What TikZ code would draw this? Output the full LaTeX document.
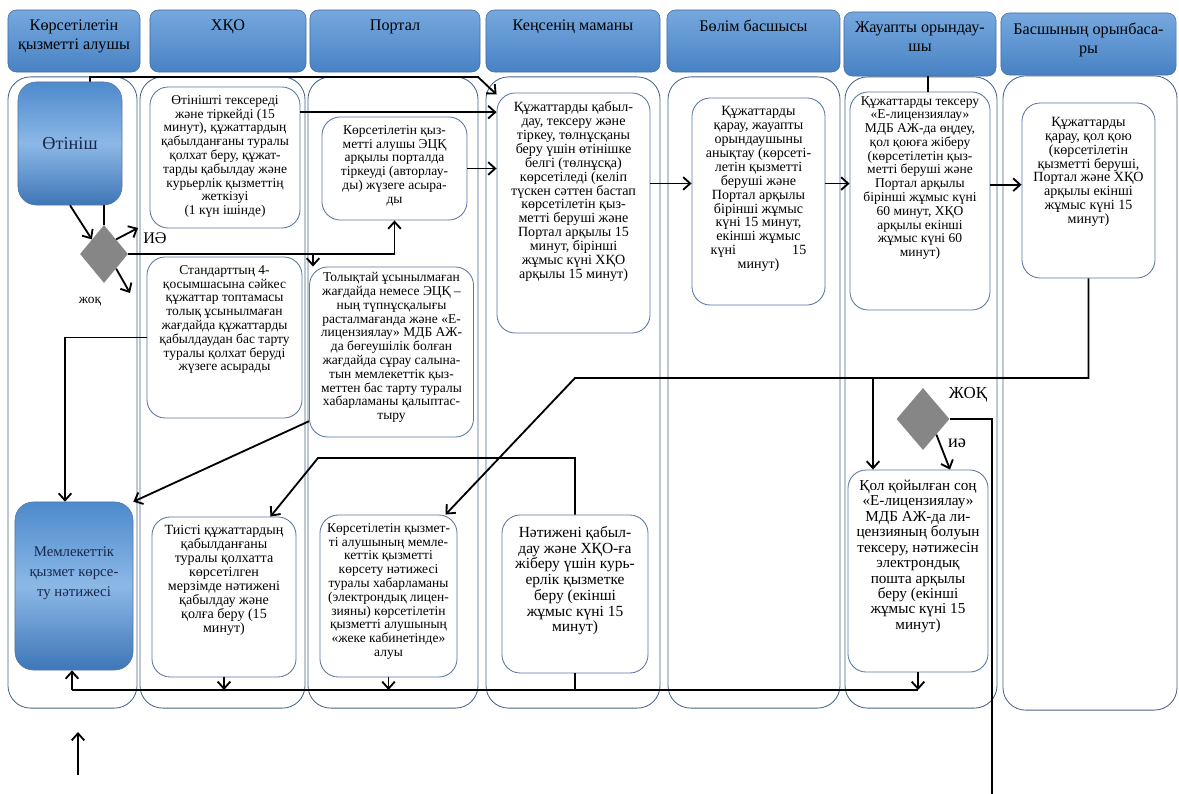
\documentclass[tikz,border=0pt]{standalone}
\usepackage{fontspec}
\setmainfont{Liberation Serif}
\usetikzlibrary{arrows.meta,shapes.geometric}

\definecolor{hdtop}{RGB}{118,168,222}
\definecolor{hdbot}{RGB}{72,130,196}
\definecolor{hdline}{RGB}{70,110,160}
\definecolor{laneline}{RGB}{72,100,138}
\definecolor{boxline}{RGB}{88,118,160}
\definecolor{fltop}{RGB}{78,138,205}
\definecolor{flmid}{RGB}{140,184,230}
\definecolor{flbot}{RGB}{62,118,184}
\definecolor{navytxt}{RGB}{25,40,75}

\newcommand{\toptxt}[4][6pt]{\parbox[c][#3][t]{#2}{\centering\vspace*{#1}#4}}

\begin{document}
\begin{tikzpicture}[x=0.025cm,y=-0.025cm,>={Straight Barb[length=5pt,width=9pt]},
        hdr/.style={draw=hdline,rounded corners=6pt,top color=hdtop,bottom color=hdbot,
          inner sep=0pt,font=\fontsize{11.5}{13.5}\selectfont},
        lane/.style={draw=laneline,rounded corners=16pt,inner sep=0pt,line width=0.6pt},
        stepbox/.style={draw=boxline,rounded corners=13pt,fill=white,inner sep=0pt,
          line width=0.6pt,font=\fontsize{9.6}{9.8}\selectfont},
        bluebox/.style={draw=boxline,rounded corners=13pt,top color=fltop,bottom color=flbot,
          middle color=flmid,inner sep=0pt,text=navytxt},
        dia/.style={diamond,fill=gray!95,draw=none,inner sep=0pt},
        flow/.style={->,line width=1.3pt},
        link/.style={line width=1.3pt}]

  \path[use as bounding box,fill=white] (0,0) rectangle (1179,794);

  \node[lane,minimum width=3.225cm,minimum height=15.775cm] (s_1) at (72.5,392.5) {};
  \node[lane,minimum width=4.125cm,minimum height=15.775cm] (s_2) at (222.5,392.5) {};
  \node[lane,minimum width=4.25cm,minimum height=15.775cm] (s_3) at (393,392.5) {};
  \node[lane,minimum width=4.35cm,minimum height=15.775cm] (s_4) at (573,392.5) {};
  \node[lane,minimum width=4.3cm,minimum height=15.775cm] (s_5) at (754,392.5) {};
  \node[lane,minimum width=3.8cm,minimum height=15.775cm] (s_6) at (921,392.5) {};
  \node[lane,minimum width=4.35cm,minimum height=15.85cm] (s_7) at (1090,393) {};

  \node[hdr] (h_1) at (74,41) {\toptxt[7pt]{3.3cm}{1.55cm}{Көрсетілетін\\қызметті  алушы}};
  \node[hdr] (h_2) at (228,41) {\toptxt[7pt]{3.9cm}{1.55cm}{ХҚО}};
  \node[hdr] (h_3) at (395,41) {\toptxt[7pt]{4.25cm}{1.55cm}{Портал}};
  \node[hdr] (h_4) at (573,41) {\toptxt[7pt]{4.35cm}{1.55cm}{Кеңсенің маманы}};
  \node[hdr] (h_5) at (753.5,41) {\toptxt[7pt]{4.325cm}{1.55cm}{Бөлім басшысы}};
  \node[hdr] (h_6) at (920,44) {\toptxt[7pt]{3.8cm}{1.6cm}{Жауапты орындау-\\шы}};
  \node[hdr] (h_7) at (1088.5,44) {\toptxt[7pt]{4.375cm}{1.55cm}{Басшының  орынбаса-\\ры}};

  \node[bluebox,minimum width=2.6cm,minimum height=3.075cm,font=\fontsize{13}{15}\selectfont]
    (a_0) at (70,143.5) {Өтініш};

  \node[stepbox] (a_1) at (225,157.5) {\toptxt{3.75cm}{3.525cm}{Өтінішті тексереді\\
    және тіркейді (15\\минут), құжаттардың\\қабылданғаны туралы\\қолхат беру, құжат-\\
    тарды қабылдау және\\курьерлік  қызметтің\\жеткізуі\\(1 күн ішінде)}};
  \node[stepbox] (p_1) at (394.5,168.5) {\toptxt{3.625cm}{2.575cm}{Көрсетілетін қыз-\\
    метті алушы ЭЦҚ\\арқылы  порталда\\тіркеуді (авторлау-\\ды) жүзеге асыра-\\ды}};
  \node[stepbox,font=\fontsize{10}{9.9}\selectfont] (k_1) at (573.5,213)
    {\toptxt{3.825cm}{6cm}{Құжаттарды қабыл-\\
    дау, тексеру және\\тіркеу, төлнұсқаны\\беру үшін өтінішке\\белгі (төлнұсқа)\\
    көрсетіледі (келіп\\түскен сәттен бастап\\көрсетілетін қыз-\\метті беруші және\\
    Портал арқылы 15\\минут, бірінші\\жұмыс күні  ХҚО\\арқылы 15 минут)}};
  \node[stepbox,font=\fontsize{10}{9.9}\selectfont] (b_1) at (758.5,201.5)
    {\toptxt{3.325cm}{5.175cm}{Құжаттарды\\
    қарау, жауапты\\орындаушыны\\анықтау (көрсеті-\\летін қызметті\\беруші және\\
    Портал арқылы\\бірінші жұмыс\\күні 15 минут,\\екінші жұмыс\\
    күні\hspace{4em}15\\минут)}};
  \node[stepbox] (j_1) at (920,201) {\toptxt[3pt]{3.5cm}{5.45cm}{Құжаттарды тексеру\\
    «Е-лицензиялау»\\МДБ АЖ-да өңдеу,\\қол қоюға жіберу\\(көрсетілетін қыз-\\
    метті беруші және\\Портал арқылы\\бірінші жұмыс күні\\60 минут, ХҚО\\
    арқылы екінші\\жұмыс күні 60\\минут)}};
  \node[stepbox,font=\fontsize{10}{9.9}\selectfont] (o_1) at (1088.5,190.5)
    {\toptxt[10pt]{3.325cm}{4.375cm}{Құжаттарды\\
    қарау, қол қою\\(көрсетілетін\\қызметті беруші,\\Портал және ХҚО\\
    арқылы екінші\\жұмыс күні 15\\минут)}};

  \node[stepbox] (a_2) at (224.5,337.5) {\toptxt{3.875cm}{4.025cm}{Стандарттың 4-\\
    қосымшасына сәйкес\\құжаттар топтамасы\\толық ұсынылмаған\\жағдайда құжаттарды\\
    қабылдаудан бас тарту\\туралы  қолхат беруді\\жүзеге асырады}};
  \node[stepbox] (p_2) at (391.5,352) {\toptxt[4pt]{4.1cm}{4.25cm}{Толықтай  ұсынылмаған\\
    жағдайда немесе ЭЦҚ –\\ның түпнұсқалығы\\расталмағанда және «Е-\\
    лицензиялау» МДБ АЖ-\\да бөгеушілік болған\\жағдайда сұрау салына-\\
    тын мемлекеттік қыз-\\меттен бас тарту туралы\\хабарламаны қалыптас-\\тыру}};

  \node[bluebox,font=\fontsize{10.5}{14}\selectfont] (r_1) at (74,586)
    {\toptxt[32pt]{2.95cm}{4.2cm}{Мемлекеттік\\қызмет көрсе-\\ту нәтижесі}};
  \node[stepbox,font=\fontsize{10}{9.9}\selectfont] (a_3) at (224,597)
    {\toptxt{3.6cm}{4cm}{Тиісті құжаттардың\\
    қабылданғаны\\туралы қолхатта\\көрсетілген\\мерзімде нәтижені\\қабылдау және\\
    қолға беру (15\\минут)}};
  \node[stepbox] (p_3) at (388.5,596) {\toptxt{3.425cm}{4.05cm}{Көрсетілетін қызмет-\\
    ті алушының мемле-\\кеттік қызметті\\көрсету нәтижесі\\туралы хабарламаны\\
    (электрондық лицен-\\зияны) көрсетілетін\\қызметті алушының\\«жеке кабинетінде»\\алуы}};
  \node[stepbox,font=\fontsize{11}{11.2}\selectfont] (k_2) at (575,594)
    {\toptxt[8pt]{3.65cm}{3.95cm}{Нәтижені  қабыл-\\дау және ХҚО-ға\\жіберу үшін курь-\\
    ерлік  қызметке\\беру  (екінші\\жұмыс күні 15\\минут)}};
  \node[stepbox,font=\fontsize{10.8}{11}\selectfont] (j_2) at (918,571)
    {\toptxt[7pt]{3.5cm}{5.05cm}{Қол қойылған соң\\«Е-лицензиялау»\\МДБ АЖ-да ли-\\
    цензияның болуын\\тексеру, нәтижесін\\электрондық\\пошта арқылы\\беру (екінші\\
    жұмыс күні 15\\минут)}};

  \node[dia,minimum width=1.2cm,minimum height=1.45cm] (d_1) at (104,254) {};
  \node[dia,minimum width=1.325cm,minimum height=1.55cm] (d_2) at (923,419) {};

  \node[font=\fontsize{11.5}{13}\selectfont] (l_1) at (155,238) {ИӘ};
  \node[font=\fontsize{9.5}{11}\selectfont] (l_2) at (90,302) {жоқ};
  \node[font=\fontsize{12}{14}\selectfont] (l_3) at (968,395) {ЖОҚ};
  \node[font=\fontsize{13}{15}\selectfont] (l_4) at (957,443) {иә};

  \coordinate (t_2) at (478,77);
  \draw[flow] ([xshift=0.5cm]a_0.north) |- (t_2) -- (k_1.123);
  \draw[flow] (a_1.31) -- (a_1.31 -| k_1.west);
  \draw[flow] (p_1.east) -- (p_1.east -| k_1.west);
  \draw[flow] (k_1.21) -- (k_1.21 -| b_1.west);
  \draw[flow] (b_1.15) -- (b_1.15 -| j_1.west);
  \draw[flow] (j_1.13) -- (j_1.13 -| o_1.west);
  \draw[link] ([xshift=0.2cm]h_6.south) -- ([xshift=0.2cm]j_1.north);

  \coordinate (m_1) at (575,378);
  \coordinate (m_2) at (873,378);
  \draw[flow] (o_1.south) |- (m_1) -- (p_3.55);
  \draw[flow] (m_2) -- (m_2 |- j_2.north);
  \coordinate (e_1) at (992,794);
  \draw[link] (d_2.east) -| (e_1);
  \draw[flow] (d_2.south east) -- ([xshift=0.8cm]j_2.north);

  \coordinate (m_3) at (318,458);
  \draw[flow] (k_2.north) |- (m_3) -- (a_3.60);
  \draw[flow] (p_2.220) -- (r_1.north east);
  \draw[flow] (a_2.west) -| ([xshift=-0.225cm]r_1.north);

  \draw[flow] (a_0.south) -- (d_1.north west);
  \draw[link] (a_0.south -| d_1.north) -- (d_1.north);
  \coordinate (y_1) at (138,228);
  \draw[flow] (d_1.north east) -- (y_1);
  \draw[flow] (d_1.east) -| (p_1.south);
  \coordinate (y_2) at (313,254);
  \draw[flow] (y_2) -- (y_2 |- p_2.north);
  \coordinate (n_1) at (130,293);
  \draw[flow] (d_1.south east) -- (n_1);

  \coordinate (b_l) at (72,690);
  \coordinate (b_r) at (918,690);
  \draw[link] (b_l) -- (b_r);
  \draw[flow] (b_l) -- (b_l |- r_1.south);
  \draw[flow] (a_3.south) -- (a_3.south |- b_l);
  \draw[flow] (p_3.south) -- (p_3.south |- b_l);
  \draw[link] (k_2.south) -- (k_2.south |- b_l);
  \draw[flow] (j_2.south) -- (j_2.south |- b_l);

  \coordinate (f_1) at (78,775);
  \coordinate (f_2) at (78,732);
  \draw[flow] (f_1) -- (f_2);

\end{tikzpicture}
\end{document}
